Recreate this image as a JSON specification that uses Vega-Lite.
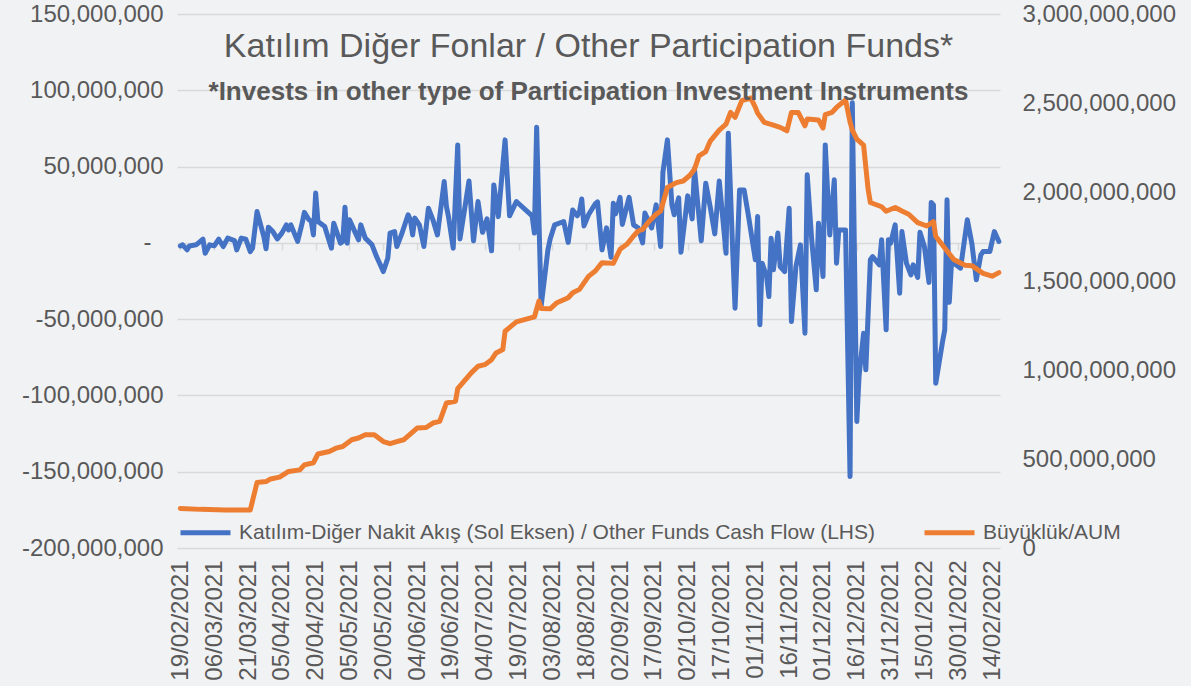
{
"$schema": "https://vega.github.io/schema/vega-lite/v6.json",
"width": 823,
"height": 534,
"autosize": {"type": "none"},
"padding": {"left": 177, "top": 14, "right": 191, "bottom": 138},
"background": "#f1f2f4",
"config": {"view": {"stroke": null}, "font": "Liberation Sans"},
"title": {
  "text": "Katılım Diğer Fonlar / Other Participation Funds*",
  "subtitle": "*Invests in other type of Participation Investment Instruments",
  "anchor": "middle", "frame": "group", "orient": "top", "offset": -103,
  "font": "Liberation Sans", "fontSize": 34, "fontWeight": "normal", "color": "#595959",
  "subtitleFont": "Liberation Sans", "subtitleFontSize": 26, "subtitleFontWeight": "bold", "subtitleColor": "#595959", "subtitlePadding": 15
},
"datasets": {
"flow": [
{"date":"2021-02-19","v":-2000000},{"date":"2021-02-20","v":-1300000},{"date":"2021-02-22","v":-4600000},{"date":"2021-02-23","v":-2000000},{"date":"2021-02-26","v":-1300000},
{"date":"2021-03-01","v":2400000},{"date":"2021-03-02","v":-6800000},{"date":"2021-03-04","v":-1300000},{"date":"2021-03-06","v":-2000000},{"date":"2021-03-08","v":2400000},
{"date":"2021-03-10","v":-2400000},{"date":"2021-03-12","v":3100000},{"date":"2021-03-15","v":1500000},{"date":"2021-03-16","v":-4600000},{"date":"2021-03-18","v":3100000},
{"date":"2021-03-20","v":2400000},{"date":"2021-03-22","v":-5700000},{"date":"2021-03-23","v":-3500000},{"date":"2021-03-25","v":20500000},{"date":"2021-03-28","v":4100000},
{"date":"2021-03-29","v":-3900000},{"date":"2021-03-30","v":10300000},{"date":"2021-04-01","v":7400000},{"date":"2021-04-03","v":2600000},{"date":"2021-04-05","v":6400000},
{"date":"2021-04-07","v":11800000},{"date":"2021-04-08","v":8500000},{"date":"2021-04-09","v":11800000},{"date":"2021-04-12","v":1000000},{"date":"2021-04-14","v":12900000},
{"date":"2021-04-15","v":20000000},{"date":"2021-04-17","v":15100000},{"date":"2021-04-18","v":14400000},{"date":"2021-04-19","v":5200000},{"date":"2021-04-20","v":32600000},
{"date":"2021-04-21","v":14000000},{"date":"2021-04-24","v":10700000},{"date":"2021-04-27","v":-3500000},{"date":"2021-04-28","v":12900000},{"date":"2021-05-01","v":-200000},
{"date":"2021-05-02","v":900000},{"date":"2021-05-03","v":23400000},{"date":"2021-05-04","v":-200000},{"date":"2021-05-05","v":15100000},{"date":"2021-05-07","v":8500000},
{"date":"2021-05-09","v":2000000},{"date":"2021-05-10","v":11800000},{"date":"2021-05-12","v":3100000},{"date":"2021-05-15","v":-1300000},{"date":"2021-05-17","v":-9000000},
{"date":"2021-05-20","v":-18800000},{"date":"2021-05-22","v":-10000000},{"date":"2021-05-23","v":6400000},{"date":"2021-05-25","v":7400000},{"date":"2021-05-26","v":-2400000},
{"date":"2021-05-28","v":5200000},{"date":"2021-05-31","v":18400000},{"date":"2021-06-01","v":15100000},{"date":"2021-06-02","v":5200000},{"date":"2021-06-03","v":16200000},
{"date":"2021-06-05","v":11800000},{"date":"2021-06-07","v":-2400000},{"date":"2021-06-09","v":22700000},{"date":"2021-06-11","v":15100000},{"date":"2021-06-13","v":5200000},
{"date":"2021-06-16","v":40200000},{"date":"2021-06-17","v":23800000},{"date":"2021-06-18","v":16400000},{"date":"2021-06-20","v":-3500000},{"date":"2021-06-22","v":64200000},
{"date":"2021-06-23","v":2600000},{"date":"2021-06-27","v":40600000},{"date":"2021-06-29","v":1300000},{"date":"2021-07-01","v":27100000},{"date":"2021-07-03","v":6900000},
{"date":"2021-07-05","v":15700000},{"date":"2021-07-07","v":-5200000},{"date":"2021-07-08","v":38000000},{"date":"2021-07-10","v":17200000},{"date":"2021-07-13","v":67500000},
{"date":"2021-07-15","v":17700000},{"date":"2021-07-18","v":27100000},{"date":"2021-07-25","v":17700000},{"date":"2021-07-26","v":6400000},{"date":"2021-07-27","v":75700000},
{"date":"2021-07-29","v":-41300000},{"date":"2021-08-01","v":-4600000},{"date":"2021-08-02","v":2600000},{"date":"2021-08-04","v":11800000},{"date":"2021-08-08","v":14000000},
{"date":"2021-08-10","v":300000},{"date":"2021-08-12","v":21600000},{"date":"2021-08-14","v":17700000},{"date":"2021-08-15","v":20500000},{"date":"2021-08-16","v":28800000},
{"date":"2021-08-17","v":11100000},{"date":"2021-08-19","v":18400000},{"date":"2021-08-22","v":25600000},{"date":"2021-08-23","v":26900000},{"date":"2021-08-25","v":-4600000},
{"date":"2021-08-27","v":9800000},{"date":"2021-08-29","v":-9500000},{"date":"2021-08-30","v":26000000},{"date":"2021-08-31","v":19000000},{"date":"2021-09-02","v":29800000},
{"date":"2021-09-03","v":12100000},{"date":"2021-09-06","v":29800000},{"date":"2021-09-08","v":11800000},{"date":"2021-09-10","v":9800000},{"date":"2021-09-12","v":0},
{"date":"2021-09-13","v":19500000},{"date":"2021-09-16","v":9800000},{"date":"2021-09-18","v":24900000},{"date":"2021-09-20","v":-2400000},{"date":"2021-09-21","v":46200000},
{"date":"2021-09-23","v":67500000},{"date":"2021-09-25","v":24900000},{"date":"2021-09-26","v":18400000},{"date":"2021-09-28","v":29500000},{"date":"2021-09-29","v":-6200000},
{"date":"2021-10-02","v":30800000},{"date":"2021-10-04","v":15700000},{"date":"2021-10-05","v":48500000},{"date":"2021-10-08","v":1300000},{"date":"2021-10-10","v":39100000},
{"date":"2021-10-12","v":23300000},{"date":"2021-10-14","v":5900000},{"date":"2021-10-16","v":40600000},{"date":"2021-10-19","v":-6800000},{"date":"2021-10-20","v":71900000},
{"date":"2021-10-22","v":-6800000},{"date":"2021-10-23","v":-42800000},{"date":"2021-10-25","v":34700000},{"date":"2021-10-27","v":34700000},{"date":"2021-10-29","v":17200000},
{"date":"2021-11-01","v":-11100000},{"date":"2021-11-02","v":17200000},{"date":"2021-11-03","v":-53700000},{"date":"2021-11-04","v":-13300000},{"date":"2021-11-06","v":-22100000},
{"date":"2021-11-07","v":-35200000},{"date":"2021-11-08","v":3100000},{"date":"2021-11-09","v":-17700000},{"date":"2021-11-11","v":6400000},{"date":"2021-11-12","v":-15500000},
{"date":"2021-11-14","v":-18800000},{"date":"2021-11-16","v":22700000},{"date":"2021-11-17","v":-51600000},{"date":"2021-11-19","v":-15500000},{"date":"2021-11-21","v":-1300000},
{"date":"2021-11-23","v":-59200000},{"date":"2021-11-24","v":44600000},{"date":"2021-11-26","v":2000000},{"date":"2021-11-28","v":-30800000},{"date":"2021-11-29","v":12900000},
{"date":"2021-12-01","v":-22100000},{"date":"2021-12-02","v":64200000},{"date":"2021-12-04","v":5200000},{"date":"2021-12-06","v":41300000},{"date":"2021-12-07","v":-13300000},
{"date":"2021-12-08","v":8500000},{"date":"2021-12-11","v":8500000},{"date":"2021-12-13","v":-153200000},{"date":"2021-12-14","v":91800000},{"date":"2021-12-16","v":-117100000},
{"date":"2021-12-17","v":-87200000},{"date":"2021-12-19","v":-59200000},{"date":"2021-12-20","v":-83200000},{"date":"2021-12-22","v":-11100000},{"date":"2021-12-23","v":-9000000},
{"date":"2021-12-26","v":-14400000},{"date":"2021-12-27","v":2000000},{"date":"2021-12-29","v":-57000000},{"date":"2021-12-30","v":2000000},{"date":"2021-12-31","v":-200000},
{"date":"2022-01-02","v":11800000},{"date":"2022-01-04","v":-33000000},{"date":"2022-01-05","v":7400000},{"date":"2022-01-07","v":-13300000},{"date":"2022-01-09","v":-21000000},
{"date":"2022-01-10","v":-14400000},{"date":"2022-01-12","v":-22600000},{"date":"2022-01-13","v":6900000},{"date":"2022-01-15","v":-2600000},{"date":"2022-01-17","v":-25900000},
{"date":"2022-01-18","v":26500000},{"date":"2022-01-19","v":24900000},{"date":"2022-01-20","v":-92000000},{"date":"2022-01-23","v":-64900000},{"date":"2022-01-24","v":-57000000},
{"date":"2022-01-25","v":28200000},{"date":"2022-01-26","v":-39000000},{"date":"2022-01-27","v":-12500000},{"date":"2022-01-29","v":-14400000},{"date":"2022-01-31","v":-16600000},
{"date":"2022-02-03","v":15100000},{"date":"2022-02-05","v":-200000},{"date":"2022-02-07","v":-24200000},{"date":"2022-02-09","v":-7900000},{"date":"2022-02-10","v":-5700000},
{"date":"2022-02-13","v":-5600000},{"date":"2022-02-15","v":7400000},{"date":"2022-02-16","v":4100000},{"date":"2022-02-17","v":900000}
],
"aum": [
{"date":"2021-02-19","v":222000000},{"date":"2021-02-28","v":217000000},{"date":"2021-03-11","v":214000000},{"date":"2021-03-22","v":214000000},{"date":"2021-03-25","v":368000000},
{"date":"2021-03-29","v":373000000},{"date":"2021-03-31","v":388000000},{"date":"2021-04-04","v":398000000},{"date":"2021-04-08","v":430000000},{"date":"2021-04-13","v":439000000},
{"date":"2021-04-15","v":467000000},{"date":"2021-04-19","v":479000000},{"date":"2021-04-21","v":528000000},{"date":"2021-04-26","v":542000000},{"date":"2021-04-29","v":561000000},
{"date":"2021-05-02","v":570000000},{"date":"2021-05-06","v":608000000},{"date":"2021-05-09","v":618000000},{"date":"2021-05-12","v":636000000},{"date":"2021-05-16","v":636000000},
{"date":"2021-05-20","v":598000000},{"date":"2021-05-23","v":586000000},{"date":"2021-05-26","v":598000000},{"date":"2021-05-29","v":608000000},{"date":"2021-06-04","v":674000000},
{"date":"2021-06-08","v":677000000},{"date":"2021-06-11","v":702000000},{"date":"2021-06-14","v":711000000},{"date":"2021-06-17","v":815000000},{"date":"2021-06-21","v":824000000},
{"date":"2021-06-22","v":895000000},{"date":"2021-06-28","v":984000000},{"date":"2021-07-01","v":1021000000},{"date":"2021-07-04","v":1030000000},{"date":"2021-07-07","v":1058000000},
{"date":"2021-07-09","v":1096000000},{"date":"2021-07-12","v":1115000000},{"date":"2021-07-13","v":1218000000},{"date":"2021-07-18","v":1270000000},{"date":"2021-07-26","v":1298000000},
{"date":"2021-07-28","v":1387000000},{"date":"2021-07-29","v":1346000000},{"date":"2021-08-02","v":1344000000},{"date":"2021-08-05","v":1378000000},{"date":"2021-08-10","v":1406000000},
{"date":"2021-08-12","v":1434000000},{"date":"2021-08-15","v":1453000000},{"date":"2021-08-19","v":1526000000},{"date":"2021-08-22","v":1556000000},{"date":"2021-08-25","v":1603000000},
{"date":"2021-08-30","v":1599000000},{"date":"2021-09-02","v":1678000000},{"date":"2021-09-05","v":1706000000},{"date":"2021-09-08","v":1753000000},{"date":"2021-09-10","v":1781000000},
{"date":"2021-09-12","v":1790000000},{"date":"2021-09-15","v":1837000000},{"date":"2021-09-18","v":1875000000},{"date":"2021-09-20","v":1893000000},{"date":"2021-09-23","v":2025000000},
{"date":"2021-09-27","v":2053000000},{"date":"2021-09-30","v":2062000000},{"date":"2021-10-03","v":2094000000},{"date":"2021-10-05","v":2128000000},{"date":"2021-10-07","v":2203000000},
{"date":"2021-10-10","v":2227000000},{"date":"2021-10-12","v":2286000000},{"date":"2021-10-16","v":2348000000},{"date":"2021-10-19","v":2381000000},{"date":"2021-10-21","v":2447000000},
{"date":"2021-10-23","v":2419000000},{"date":"2021-10-26","v":2513000000},{"date":"2021-10-30","v":2528000000},{"date":"2021-11-01","v":2475000000},{"date":"2021-11-02","v":2443000000},
{"date":"2021-11-05","v":2391000000},{"date":"2021-11-09","v":2376000000},{"date":"2021-11-12","v":2363000000},{"date":"2021-11-15","v":2344000000},{"date":"2021-11-17","v":2447000000},
{"date":"2021-11-20","v":2447000000},{"date":"2021-11-23","v":2372000000},{"date":"2021-11-24","v":2410000000},{"date":"2021-11-29","v":2404000000},{"date":"2021-12-01","v":2359000000},
{"date":"2021-12-02","v":2435000000},{"date":"2021-12-05","v":2447000000},{"date":"2021-12-07","v":2475000000},{"date":"2021-12-11","v":2517000000},{"date":"2021-12-13","v":2393000000},
{"date":"2021-12-14","v":2348000000},{"date":"2021-12-16","v":2297000000},{"date":"2021-12-19","v":2263000000},{"date":"2021-12-21","v":2016000000},{"date":"2021-12-22","v":1941000000},
{"date":"2021-12-27","v":1917000000},{"date":"2021-12-29","v":1892000000},{"date":"2022-01-02","v":1913000000},{"date":"2022-01-05","v":1893000000},{"date":"2022-01-08","v":1875000000},
{"date":"2022-01-12","v":1828000000},{"date":"2022-01-16","v":1809000000},{"date":"2022-01-19","v":1833000000},{"date":"2022-01-20","v":1751000000},{"date":"2022-01-25","v":1669000000},
{"date":"2022-01-28","v":1621000000},{"date":"2022-02-02","v":1588000000},{"date":"2022-02-05","v":1586000000},{"date":"2022-02-10","v":1543000000},{"date":"2022-02-14","v":1527000000},
{"date":"2022-02-17","v":1547000000}
]
},
"layer": [
{
  "data": {"name": "flow"},
  "mark": {"type": "line", "strokeWidth": 5, "strokeCap": "round", "strokeJoin": "round"},
  "encoding": {
    "x": {"field": "date", "type": "temporal",
      "scale": {"type": "utc", "domain": [{"year": 2021, "month": 2, "date": 17, "hours": 12, "utc": true}, {"year": 2022, "month": 2, "date": 17, "hours": 12, "utc": true}]},
      "axis": {"orient": "bottom", "title": null,
        "labelExpr": "utcFormat(datum.value, '%d/%m/%Y')",
        "values": [
          {"year":2021,"month":2,"date":19,"utc":true},{"year":2021,"month":3,"date":6,"utc":true},{"year":2021,"month":3,"date":21,"utc":true},
          {"year":2021,"month":4,"date":5,"utc":true},{"year":2021,"month":4,"date":20,"utc":true},{"year":2021,"month":5,"date":5,"utc":true},
          {"year":2021,"month":5,"date":20,"utc":true},{"year":2021,"month":6,"date":4,"utc":true},{"year":2021,"month":6,"date":19,"utc":true},
          {"year":2021,"month":7,"date":4,"utc":true},{"year":2021,"month":7,"date":19,"utc":true},{"year":2021,"month":8,"date":3,"utc":true},
          {"year":2021,"month":8,"date":18,"utc":true},{"year":2021,"month":9,"date":2,"utc":true},{"year":2021,"month":9,"date":17,"utc":true},
          {"year":2021,"month":10,"date":2,"utc":true},{"year":2021,"month":10,"date":17,"utc":true},{"year":2021,"month":11,"date":1,"utc":true},
          {"year":2021,"month":11,"date":16,"utc":true},{"year":2021,"month":12,"date":1,"utc":true},{"year":2021,"month":12,"date":16,"utc":true},
          {"year":2021,"month":12,"date":31,"utc":true},{"year":2022,"month":1,"date":15,"utc":true},{"year":2022,"month":1,"date":30,"utc":true},
          {"year":2022,"month":2,"date":14,"utc":true}],
        "labelAngle": 270, "labelAlign": "right", "labelBaseline": "middle", "labelFlush": false, "labelOverlap": false,
        "labelFont": "Liberation Sans", "labelFontSize": 24, "labelColor": "#595959", "labelPadding": 12,
        "ticks": false, "domain": false, "grid": false}},
    "y": {"field": "v", "type": "quantitative",
      "scale": {"domain": [-200000000, 150000000], "nice": false, "zero": false},
      "axis": {"orient": "left", "title": null,
        "values": [-200000000, -150000000, -100000000, -50000000, 0, 50000000, 100000000, 150000000],
        "labelExpr": "datum.value === 0 ? '-' : replace(format(datum.value, ','), '\u2212', '-')",
        "labelPadding": {"condition": {"test": "datum.value === 0", "value": 26}, "value": 14},
        "labelFont": "Liberation Sans", "labelFontSize": 24, "labelColor": "#595959",
        "ticks": false, "domain": false, "grid": true, "gridColor": "#d9d9d9", "gridWidth": 1.5}},
    "color": {"datum": "Katılım-Diğer Nakit Akış (Sol Eksen) / Other Funds Cash Flow (LHS)", "type": "nominal",
      "scale": {"domain": ["Katılım-Diğer Nakit Akış (Sol Eksen) / Other Funds Cash Flow (LHS)", "Büyüklük/AUM"], "range": ["#4472C4", "#ED7D31"]},
      "legend": {"orient": "none", "legendX": 1, "legendY": 491, "direction": "horizontal", "title": null,
        "symbolType": "stroke", "symbolSize": 2500, "symbolStrokeWidth": 5,
        "labelFont": "Liberation Sans", "labelFontSize": 21, "labelColor": "#595959", "labelOffset": 6, "labelLimit": 1000,
        "columnPadding": 37, "padding": 0}}
  }
},
{
  "data": {"name": "aum"},
  "mark": {"type": "line", "strokeWidth": 5, "strokeCap": "round", "strokeJoin": "round"},
  "encoding": {
    "x": {"field": "date", "type": "temporal",
      "axis": {"orient": "bottom", "offset": -305, "title": null, "labels": false,
        "values": [
          {"year":2021,"month":2,"date":19,"utc":true},{"year":2021,"month":3,"date":6,"utc":true},{"year":2021,"month":3,"date":21,"utc":true},
          {"year":2021,"month":4,"date":5,"utc":true},{"year":2021,"month":4,"date":20,"utc":true},{"year":2021,"month":5,"date":5,"utc":true},
          {"year":2021,"month":5,"date":20,"utc":true},{"year":2021,"month":6,"date":4,"utc":true},{"year":2021,"month":6,"date":19,"utc":true},
          {"year":2021,"month":7,"date":4,"utc":true},{"year":2021,"month":7,"date":19,"utc":true},{"year":2021,"month":8,"date":3,"utc":true},
          {"year":2021,"month":8,"date":18,"utc":true},{"year":2021,"month":9,"date":2,"utc":true},{"year":2021,"month":9,"date":17,"utc":true},
          {"year":2021,"month":10,"date":2,"utc":true},{"year":2021,"month":10,"date":17,"utc":true},{"year":2021,"month":11,"date":1,"utc":true},
          {"year":2021,"month":11,"date":16,"utc":true},{"year":2021,"month":12,"date":1,"utc":true},{"year":2021,"month":12,"date":16,"utc":true},
          {"year":2021,"month":12,"date":31,"utc":true},{"year":2022,"month":1,"date":15,"utc":true},{"year":2022,"month":1,"date":30,"utc":true},
          {"year":2022,"month":2,"date":14,"utc":true}],
        "ticks": true, "tickSize": 7, "tickColor": "#d9d9d9", "tickWidth": 1.5, "domain": false, "grid": false}},
    "y": {"field": "v", "type": "quantitative",
      "scale": {"domain": [0, 3000000000], "nice": false},
      "axis": {"orient": "right", "title": null,
        "values": [0, 500000000, 1000000000, 1500000000, 2000000000, 2500000000, 3000000000],
        "labelExpr": "format(datum.value, ',')",
        "labelFont": "Liberation Sans", "labelFontSize": 24, "labelColor": "#595959", "labelPadding": 22,
        "ticks": false, "domain": false, "grid": false}},
    "color": {"datum": "Büyüklük/AUM", "type": "nominal"}
  }
}
],
"resolve": {"scale": {"y": "independent"}, "axis": {"x": "independent"}}
}
